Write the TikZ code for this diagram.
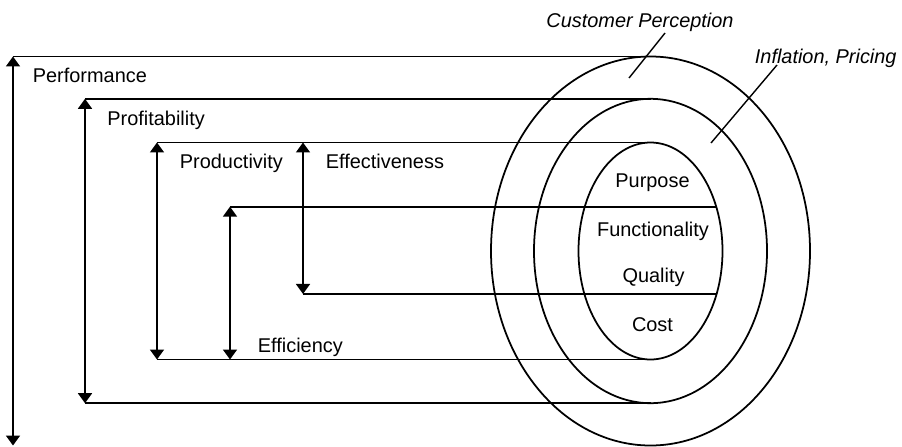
\documentclass[tikz,border=0pt]{standalone}
\usepackage{fontspec}
\setmainfont{Liberation Sans}
\usetikzlibrary{arrows.meta,shapes.geometric,calc}

\tikzset{
  ring/.style={draw, ellipse, inner sep=0pt, outer sep=0pt},
  span/.style={{Triangle[width=11.9pt,length=8.5pt]}-{Triangle[width=11.9pt,length=8.5pt]}},
  down/.style={-{Triangle[width=11.9pt,length=8.5pt]}},
  lbl/.style={anchor=base west, inner sep=0pt},
  mid/.style={anchor=base, inner sep=0pt},
  lead/.style={line width=1.2pt},
}

\begin{document}
\begin{tikzpicture}[x=0.03cm, y=-0.03cm, line width=1.5pt, font=\fontsize{17}{20}\selectfont]
	\useasboundingbox (0,0) rectangle (902,446);
	\coordinate (c) at (650.5,251);
	\node[ring, minimum width=9.57cm, minimum height=11.67cm] (outer) at (c) {};
	\node[ring, minimum width=6.99cm, minimum height=9.13cm] (middle) at (c) {};
	\node[ring, minimum width=4.32cm, minimum height=6.51cm] (inner) at (c) {};
	%
	\coordinate (perf) at (13,0);
	\coordinate (prof) at (85,0);
	\coordinate (prod) at (157,0);
	\coordinate (effi) at (230,0);
	\coordinate (effe) at (303,0);
	%
	\draw (outer.north) -- (outer.north -| perf);
	\draw[span] (outer.north -| perf) -- (outer.south -| perf);
	\draw (middle.north) -- (middle.north -| prof);
	\draw (middle.south) -- (middle.south -| prof);
	\draw[span] (middle.north -| prof) -- (middle.south -| prof);
	\draw (inner.north) -- (inner.north -| prod);
	\draw (inner.south) -- (inner.south -| prod);
	\draw[span] (inner.north -| prod) -- (inner.south -| prod);
	\draw (inner.34) -- (inner.34 -| effi);
	\draw[span] (inner.34 -| effi) -- (inner.south -| effi);
	\draw (inner.-33) -- (inner.-33 -| effe);
	\draw[span] (inner.north -| effe) -- (inner.-33 -| effe);
	%
	\node[lbl] (perfL) at ($(outer.north -| perf)+(19,26)$) {Performance};
	\node[lbl] (profL) at ($(middle.north -| prof)+(21.5,27)$) {Profitability};
	\node[lbl] (prodL) at ($(inner.north -| prod)+(22,26)$) {Productivity};
	\node[lbl] (effeL) at ($(inner.north -| effe)+(22,26)$) {Effectiveness};
	\node[lbl] (effiL) at ($(inner.south -| effi)+(27,-7.5)$) {Efficiency};
	%
	\node[mid] (purp) at (652.5,187.6) {Purpose};
	\node[mid] (func) at (653,236) {Functionality};
	\node[mid] (qual) at (653.5,282.6) {Quality};
	\node[mid] (cost) at (652.5,331) {Cost};
	%
	\node[mid, font=\fontsize{17}{20}\selectfont\itshape] (cust) at (640,27) {Customer Perception};
	\node[lbl, font=\fontsize{17}{20}\selectfont\itshape] (infl) at (754,63.5) {Inflation, Pricing};
	\coordinate (custA) at (665,33);
	\coordinate (custB) at (629,78);
	\coordinate (inflA) at (777,65);
	\coordinate (inflB) at (711,143);
	\draw[lead] (custA) -- (custB);
	\draw[lead] (inflA) -- (inflB);
\end{tikzpicture}
\end{document}
